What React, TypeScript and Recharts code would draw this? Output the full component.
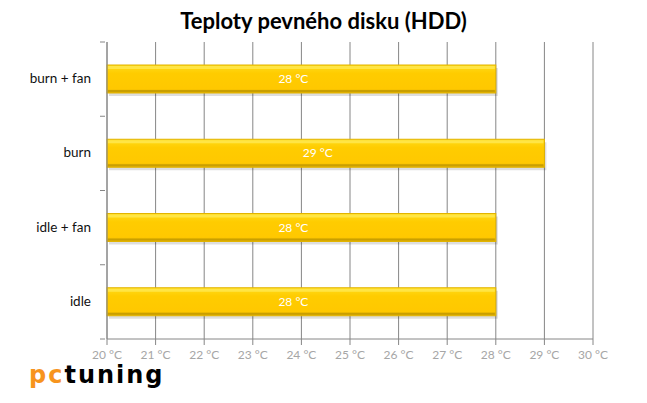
import React from 'react';
import { BarChart, Bar, XAxis, YAxis, CartesianGrid, LabelList } from 'recharts';

const categories = ['burn + fan', 'burn', 'idle + fan', 'idle'];
const temps = [28, 29, 28, 28];
const xTicks = [20, 21, 22, 23, 24, 25, 26, 27, 28, 29, 30];

const data = categories.map((name, i) => ({ name, temp: temps[i] }));

const PLOT_TOP = 42;
const PLOT_BOTTOM = 339;
const BAND = (PLOT_BOTTOM - PLOT_TOP) / categories.length;

const CategoryTick = (props: any) => {
  const { x, y, payload, index } = props;
  const axisX = x + 6;
  return (
    <g>
      <line x1={axisX - 5} x2={axisX} y1={y - BAND / 2} y2={y - BAND / 2} stroke="#868686" />
      {index === categories.length - 1 && (
        <line x1={axisX - 5} x2={axisX} y1={y + BAND / 2} y2={y + BAND / 2} stroke="#868686" />
      )}
      <text x={axisX - 14} y={y} dy={4} textAnchor="end" fontSize={13.5} fill="#111" fontFamily="Lato, sans-serif">
        {payload.value}
      </text>
    </g>
  );
};

const GoldBar = (props: any) => {
  const { x, y, width, height } = props;
  if (!width || width <= 0) return null;
  return (
    <g>
      <rect x={x + 2} y={y + 3} width={width} height={height} fill="rgba(0,0,0,0.13)" />
      <rect x={x} y={y} width={width} height={height} fill="url(#goldGrad)" stroke="#e2b400" strokeWidth={1} />
      <rect x={x + 1} y={y + 1} width={width - 2} height={3} fill="#ffe545" />
      <rect x={x + 1} y={y + height - 3} width={width - 2} height={2} fill="#c99f00" />
    </g>
  );
};

export default function App() {
  return (
    <div style={{ position: 'absolute', left: 0, top: 0, width: 647, height: 403, background: '#fff' }}>
      <div
        style={{
          position: 'absolute',
          left: 0,
          top: 7,
          width: 647,
          textAlign: 'center',
          fontFamily: 'Lato, sans-serif',
          fontWeight: 'bold',
          fontSize: 22,
          color: '#000',
        }}
      >
        Teploty pevného disku (HDD)
      </div>
      <div style={{ position: 'absolute', left: 0, top: 0 }}>
        <BarChart
          width={647}
          height={403}
          data={data}
          layout="vertical"
          margin={{ top: PLOT_TOP, right: 54, bottom: 39, left: 0 }}
          barSize={28}
        >
          <defs>
            <linearGradient id="goldGrad" x1="0" y1="0" x2="0" y2="1">
              <stop offset="0%" stopColor="#ffdb1a" />
              <stop offset="30%" stopColor="#ffcc00" />
              <stop offset="85%" stopColor="#ffc800" />
              <stop offset="100%" stopColor="#dcaa00" />
            </linearGradient>
          </defs>
          <CartesianGrid horizontal={false} stroke="#868686" />
          <XAxis
            type="number"
            dataKey="temp"
            domain={[20, 30]}
            ticks={xTicks}
            interval={0}
            height={25}
            tickSize={6}
            tickMargin={5}
            stroke="#868686"
            tick={{ fontSize: 12, fill: '#a6a6a6', fontFamily: 'Lato, sans-serif' }}
            tickFormatter={(v: number) => `${v} °C`}
          />
          <YAxis
            type="category"
            dataKey="name"
            width={107}
            stroke="#868686"
            tickLine={false}
            tick={<CategoryTick />}
          />
          <Bar dataKey="temp" isAnimationActive={false} shape={<GoldBar />}>
            <LabelList
              dataKey="temp"
              position="center"
              offset={0}
              formatter={(v: any) => `${v} °C`}
              content={(p: any) => (
                <text
                  x={p.x + p.width / 2 - 8}
                  y={p.y + p.height / 2}
                  dy={4}
                  textAnchor="middle"
                  fill="#fff"
                  fontSize={12}
                  fontFamily="Lato, sans-serif"
                >
                  {`${p.value} °C`}
                </text>
              )}
            />
          </Bar>
        </BarChart>
      </div>
      <div
        style={{
          position: 'absolute',
          left: 29,
          top: 361,
          lineHeight: 'normal',
          fontFamily: '"DejaVu Sans", sans-serif',
          fontWeight: 'bold',
          fontSize: 24,
          letterSpacing: 2,
        }}
      >
        <span style={{ color: '#f7941d' }}>pc</span>
        <span style={{ color: '#000' }}>tuning</span>
      </div>
    </div>
  );
}
